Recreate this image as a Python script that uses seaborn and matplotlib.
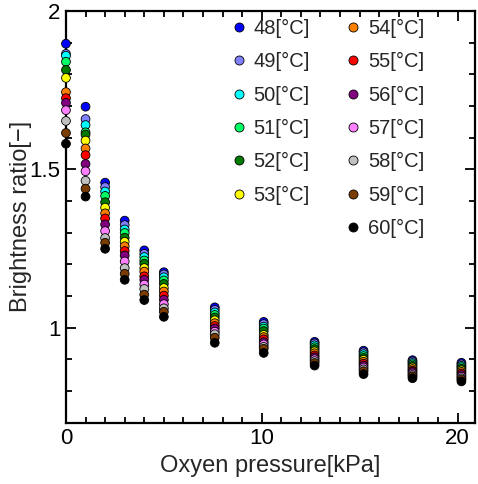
import numpy as np
import pandas as pd
import matplotlib
matplotlib.use("Agg")
import matplotlib.pyplot as plt
from matplotlib.lines import Line2D
from matplotlib.ticker import MultipleLocator, FormatStrFormatter
import seaborn as sns

pressure = [0.0, 1.0, 2.0, 3.0, 4.0, 5.0, 7.6, 10.1, 12.7, 15.2, 17.7, 20.2]
temperatures = [48, 49, 50, 51, 52, 53, 54, 55, 56, 57, 58, 59, 60]

t48 = [1.897, 1.698, 1.458, 1.338, 1.244, 1.175, 1.064, 1.018, 0.955, 0.927, 0.897, 0.889]
t49 = [1.865, 1.659, 1.444, 1.324, 1.233, 1.168, 1.056, 1.011, 0.950, 0.922, 0.893, 0.884]
t50 = [1.859, 1.640, 1.430, 1.310, 1.223, 1.159, 1.048, 1.003, 0.944, 0.916, 0.888, 0.879]
t51 = [1.840, 1.617, 1.416, 1.299, 1.212, 1.149, 1.040, 0.997, 0.938, 0.910, 0.884, 0.875]
t52 = [1.814, 1.610, 1.396, 1.284, 1.202, 1.138, 1.032, 0.989, 0.932, 0.904, 0.879, 0.870]
t53 = [1.789, 1.591, 1.379, 1.271, 1.188, 1.125, 1.023, 0.977, 0.925, 0.898, 0.874, 0.865]
t54 = [1.744, 1.566, 1.361, 1.257, 1.177, 1.114, 1.014, 0.970, 0.919, 0.892, 0.869, 0.860]
t55 = [1.725, 1.545, 1.345, 1.242, 1.162, 1.101, 1.005, 0.963, 0.912, 0.886, 0.864, 0.855]
t56 = [1.710, 1.517, 1.326, 1.228, 1.151, 1.088, 0.997, 0.954, 0.906, 0.880, 0.860, 0.850]
t57 = [1.687, 1.494, 1.305, 1.209, 1.136, 1.074, 0.987, 0.947, 0.900, 0.874, 0.855, 0.845]
t58 = [1.653, 1.464, 1.283, 1.188, 1.122, 1.061, 0.979, 0.939, 0.894, 0.868, 0.850, 0.840]
t59 = [1.615, 1.439, 1.268, 1.170, 1.104, 1.050, 0.968, 0.933, 0.888, 0.862, 0.846, 0.836]
t60 = [1.581, 1.414, 1.249, 1.151, 1.087, 1.034, 0.952, 0.920, 0.880, 0.853, 0.840, 0.830]

series = [t48, t49, t50, t51, t52, t53, t54, t55, t56, t57, t58, t59, t60]
colors = ["#0000ff", "#8080ff", "#00ffff", "#00ff66", "#007a00", "#ffff00",
          "#ff8000", "#ff0000", "#800080", "#ff80ff", "#c0c0c0", "#7a3c00", "#000000"]
labels = [f"{t}[°C]" for t in temperatures]

rows = []
for lab, vals in zip(labels, series):
    for p, v in zip(pressure, vals):
        rows.append({"pressure": p, "ratio": v, "temp": lab})
df = pd.DataFrame(rows)

sns.set_style("ticks")
plt.rcParams["font.family"] = ["Liberation Sans", "DejaVu Sans"]

fig = plt.figure(figsize=(4.78, 4.84), dpi=100)
ax = fig.add_axes([0.138, 0.127, 0.856, 0.850])

sns.scatterplot(data=df, x="pressure", y="ratio", hue="temp", hue_order=labels,
                palette=colors, s=40, edgecolor="black", linewidth=0.6,
                legend=False, ax=ax, clip_on=False, zorder=3)

ax.set_xlim(0, 20.9)
ax.set_ylim(0.7, 2.0)
ax.xaxis.set_major_locator(MultipleLocator(10))
ax.xaxis.set_minor_locator(MultipleLocator(1))
ax.yaxis.set_major_locator(MultipleLocator(0.5))
ax.yaxis.set_minor_locator(MultipleLocator(0.1))
ax.yaxis.set_major_formatter(FormatStrFormatter("%g"))
ax.tick_params(which="both", direction="in", top=True, right=True, width=1.3,
               labelsize=16, pad=4, colors="black")
ax.tick_params(which="major", length=7)
ax.tick_params(which="minor", length=4)
for sp in ax.spines.values():
    sp.set_linewidth(1.6)
    sp.set_color("black")
    sp.set_visible(True)

ax.set_xlabel("Oxyen pressure[kPa]", fontsize=17, labelpad=4)
ax.set_ylabel("Brightness ratio[−]", fontsize=17, labelpad=-2)

handles = []
for i, c in enumerate(colors):
    handles.append(Line2D([], [], linestyle="none", marker="o", markersize=6.5,
                          markerfacecolor=c, markeredgecolor="black", markeredgewidth=0.6))
hl = handles[:6] + [Line2D([], [], linestyle="none")] + handles[6:]
ll = labels[:6] + [""] + labels[6:]
ax.legend(hl, ll, ncol=2, frameon=False, fontsize=14.5, loc="upper left",
          bbox_to_anchor=(0.375, 1.013), handlelength=0.6, handletextpad=0.45,
          columnspacing=1.85, labelspacing=0.71, borderaxespad=0.25)

fig.savefig("out.png", dpi=100)
